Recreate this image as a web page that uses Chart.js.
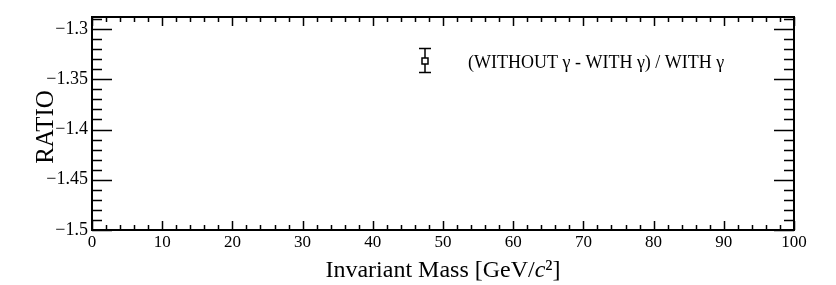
<!DOCTYPE html>
<html>
<head>
<meta charset="utf-8">
<script src="https://cdn.jsdelivr.net/npm/chart.js@4/dist/chart.umd.min.js"></script>
<style>
html,body{margin:0;padding:0;background:#fff;}
#wrap{width:836px;height:285px;}
</style>
</head>
<body>
<div id="wrap"><canvas id="c" width="836" height="285"></canvas></div>
<script>
// ---- data (no points fall inside the visible window) ----
const seriesLabel = "(WITHOUT \u03B3 - WITH \u03B3) / WITH \u03B3";
const massValues = [];
const ratioValues = [];
const ratioErrors = [];
const xTickValues = [0,10,20,30,40,50,60,70,80,90,100];
const yTickValues = [-1.5,-1.45,-1.4,-1.35,-1.3];
const xRange = [0, 100];
const yRange = [-1.5, -1.288];
const xTitle = "Invariant Mass [GeV/c\u00B2]";
const yTitle = "RATIO";

const FONT = "'Liberation Serif', 'Times New Roman', serif";

const points = massValues.map((x,i)=>({x:x, y:ratioValues[i], e:ratioErrors[i]}));

const fmt = v => {
  const s = (Math.round(v*1000)/1000).toString();
  return s.replace('-', '\u2212');
};

const framePlugin = {
  id: 'frame',
  afterDraw(chart) {
    const {ctx, chartArea: a, scales: {x, y}} = chart;
    ctx.save();
    ctx.strokeStyle = '#000';
    ctx.lineWidth = 2;
    ctx.strokeRect(a.left, a.top, a.right - a.left, a.bottom - a.top);
    ctx.lineWidth = 1.5;
    ctx.beginPath();
    // x ticks (major every 10, minor every 2)
    for (let v = xRange[0]; v <= xRange[1] + 1e-9; v += 2) {
      const px = Math.round(x.getPixelForValue(v)) + 0.5;
      const major = Math.abs(v % 10) < 1e-9;
      const len = major ? 9 : 5;
      ctx.moveTo(px, a.bottom); ctx.lineTo(px, a.bottom - len);
      ctx.moveTo(px, a.top); ctx.lineTo(px, a.top + len);
    }
    // y ticks (major every 0.05, minor every 0.01)
    for (let k = Math.round(yRange[0]*100); k <= Math.round(yRange[1]*100); k++) {
      const v = k/100;
      if (v > yRange[1]) break;
      const py = Math.round(y.getPixelForValue(v)) + 0.5;
      const major = (k % 5) === 0;
      const len = major ? 20 : 10;
      ctx.moveTo(a.left, py); ctx.lineTo(a.left + len, py);
      ctx.moveTo(a.right, py); ctx.lineTo(a.right - len, py);
    }
    ctx.stroke();

    // axis titles
    ctx.fillStyle = '#000';
    ctx.textBaseline = 'alphabetic';
    // x title with italic c
    const parts = [
      {t: 'Invariant Mass [GeV/', f: `24px ${FONT}`},
      {t: 'c', f: `italic 24px ${FONT}`},
      {t: '\u00B2]', f: `24px ${FONT}`}
    ];
    let tw = 0;
    parts.forEach(p => { ctx.font = p.f; p.w = ctx.measureText(p.t).width; tw += p.w; });
    let sx = (a.left + a.right)/2 - tw/2;
    ctx.textAlign = 'left';
    parts.forEach(p => { ctx.font = p.f; ctx.fillText(p.t, sx, 277); sx += p.w; });

    ctx.save();
    ctx.translate(53, 127);
    ctx.rotate(-Math.PI/2);
    ctx.font = `25px ${FONT}`;
    ctx.textAlign = 'center';
    ctx.fillText(yTitle, 0, 0);
    ctx.restore();

    // legend
    const mx = 425, my = 61;
    ctx.lineWidth = 1.5;
    ctx.beginPath();
    ctx.moveTo(mx, 48); ctx.lineTo(mx, my - 3);
    ctx.moveTo(mx, my + 3); ctx.lineTo(mx, 72);
    ctx.moveTo(mx - 6, 48.5); ctx.lineTo(mx + 6, 48.5);
    ctx.moveTo(mx - 6, 72.5); ctx.lineTo(mx + 6, 72.5);
    ctx.stroke();
    ctx.strokeRect(mx - 3, my - 3, 6, 6);
    ctx.font = `18px ${FONT}`;
    ctx.textAlign = 'left';
    ctx.textBaseline = 'middle';
    ctx.fillText(chart.data.datasets[0].label, 468, 63);
    ctx.restore();
  }
};

new Chart(document.getElementById('c'), {
  type: 'scatter',
  data: {
    datasets: [{
      label: seriesLabel,
      data: points,
      pointStyle: 'rect',
      pointRadius: 3,
      borderColor: '#000',
      backgroundColor: 'rgba(0,0,0,0)',
      borderWidth: 1.5,
      showLine: false
    }]
  },
  options: {
    responsive: false,
    animation: false,
    devicePixelRatio: 1,
    layout: {padding: {left: 0, right: 42, top: 17, bottom: 0}},
    plugins: {legend: {display: false}, tooltip: {enabled: false}},
    scales: {
      x: {
        type: 'linear',
        min: xRange[0], max: xRange[1],
        afterBuildTicks: s => { s.ticks = xTickValues.map(v => ({value: v})); },
        afterFit: s => { s.height = 55; },
        grid: {display: false, drawTicks: false},
        border: {display: false},
        ticks: {
          color: '#000', padding: 2,
          font: {family: FONT, size: 17},
          maxRotation: 0, autoSkip: false,
          callback: v => fmt(v)
        }
      },
      y: {
        type: 'linear',
        min: yRange[0], max: yRange[1],
        afterBuildTicks: s => { s.ticks = yTickValues.map(v => ({value: v})); },
        afterFit: s => { s.width = 92; },
        grid: {display: false, drawTicks: false},
        border: {display: false},
        ticks: {
          color: '#000', padding: 4,
          font: {family: FONT, size: 18},
          autoSkip: false,
          callback: v => fmt(v)
        }
      }
    }
  },
  plugins: [framePlugin]
});
</script>
</body>
</html>
